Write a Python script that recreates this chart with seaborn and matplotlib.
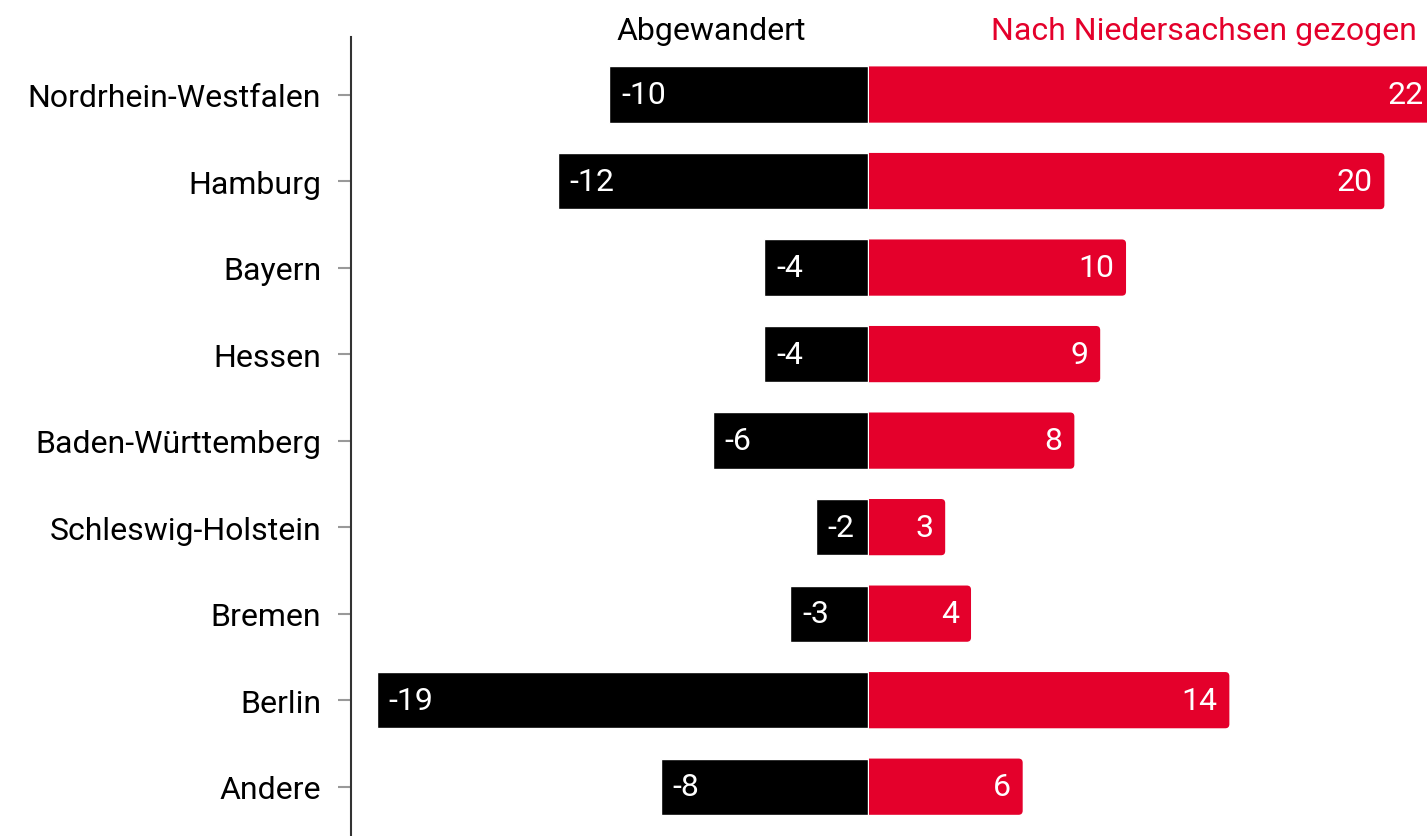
import matplotlib
matplotlib.use("Agg")
import matplotlib.pyplot as plt
import seaborn as sns
import pandas as pd
from matplotlib.patches import FancyBboxPatch, Rectangle

# Wanderung nach/aus Niedersachsen je Bundesland
laender = ["Nordrhein-Westfalen", "Hamburg", "Bayern", "Hessen",
           "Baden-Württemberg", "Schleswig-Holstein", "Bremen", "Berlin", "Andere"]
abgewandert = [-10, -12, -4, -4, -6, -2, -3, -19, -8]
zugezogen = [22, 20, 10, 9, 8, 3, 4, 14, 6]

RED = "#E4002B"
FS = 23

df = pd.DataFrame({"land": laender, "ab": abgewandert, "zu": zugezogen})

sns.set_style("white")
plt.rcParams["font.family"] = ["Roboto", "DejaVu Sans"]

fig = plt.figure(figsize=(14.27, 8.37), dpi=100)
ax = fig.add_axes([351 / 1427, 0, 1 - 351 / 1427, 1 - 38 / 837])

sns.barplot(data=df, x="ab", y="land", orient="h", color="black",
            saturation=1, width=0.65, edgecolor="white", linewidth=1.0, ax=ax)
n_black = len(ax.patches)
sns.barplot(data=df, x="zu", y="land", orient="h", color=RED,
            saturation=1, width=0.65, ax=ax)

# red bars: rounded corners on the right side only
# (rounded box starts a bit further left and is clipped at the bar start)
for bar in list(ax.patches[n_black:]):
    x0, y0 = bar.get_x() + 0.05, bar.get_y()
    w, h = bar.get_width() - 0.05, bar.get_height()
    bar.remove()
    rb = FancyBboxPatch((x0 - 0.5, y0), w + 0.5, h,
                        boxstyle="round,pad=0,rounding_size=0.16",
                        mutation_aspect=0.3, fc=RED, ec="none")
    ax.add_patch(rb)
    rb.set_clip_path(Rectangle((x0, y0 - 0.1), w + 1, h + 0.2,
                               transform=ax.transData))

# value labels
for i, v in enumerate(abgewandert):
    ax.annotate(f"{v}", (v, i), xytext=(8.5, 0), textcoords="offset points",
                ha="left", va="center", color="white", fontsize=FS,
                annotation_clip=False)
for i, v in enumerate(zugezogen):
    ax.annotate(f"{v}", (v, i), xytext=(-8.5, 0), textcoords="offset points",
                ha="right", va="center", color="white", fontsize=FS,
                annotation_clip=False)

ax.set_xlim(-20, 21.65)
ax.set_ylim(8.57, -0.665)
ax.set_xlabel("")
ax.set_ylabel("")
ax.xaxis.set_visible(False)
for s in ["top", "right", "bottom"]:
    ax.spines[s].set_visible(False)
ax.spines["left"].set_color("#333333")
ax.spines["left"].set_linewidth(1.5)
ax.tick_params(axis="y", left=True, length=9.4, width=1.5, color="#999999",
               pad=12, labelsize=FS, labelcolor="black")

fig.text(711 / 1427, 1 - 31 / 837, "Abgewandert", ha="center", va="center",
         fontsize=FS, color="black")
fig.text(1417 / 1427, 1 - 31 / 837, "Nach Niedersachsen gezogen", ha="right",
         va="center", fontsize=FS, color=RED)

fig.savefig("out.png", dpi=100)
